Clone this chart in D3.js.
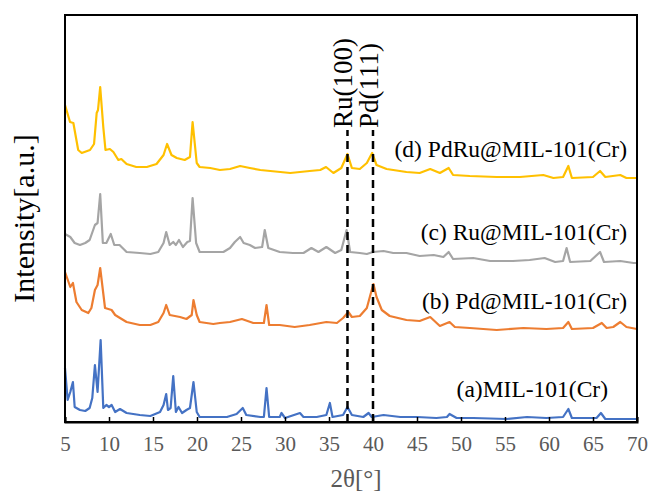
<!DOCTYPE html>
<html>
<head>
<meta charset="utf-8">
<script src="https://cdn.jsdelivr.net/npm/d3@7"></script>
<style>
  html, body { margin: 0; padding: 0; background: #fff; }
  svg { display: block; }
</style>
</head>
<body>
<svg id="chart" width="651" height="492"></svg>
<script>
// ---- data (2θ in degrees, stacked intensity in a.u.) ----
const xTicks = [5, 10, 15, 20, 25, 30, 35, 40, 45, 50, 55, 60, 65, 70];
const seriesNames = ["(a)MIL-101(Cr)", "(b) Pd@MIL-101(Cr)", "(c) Ru@MIL-101(Cr)", "(d) PdRu@MIL-101(Cr)"];
const seriesColors = ["#4472C4", "#ED7D31", "#A5A5A5", "#FFC000"];
const refLines = [37.1, 40.0];
const refLabels = ["Ru(100)", "Pd(111)"];

const dataA = [[5.0,54],[5.3,22],[5.6,30],[5.9,40],[6.1,15],[6.7,12],[7.3,11],[7.8,14],[8.1,24],[8.4,57],[8.7,30],[9.05,82],[9.35,14],[9.7,17],[10.0,15],[10.3,17],[10.7,10],[11.25,13],[12.0,9],[13.5,7],[14.7,6],[15.8,10],[16.2,17],[16.5,28],[16.7,12],[17.0,14],[17.3,46],[17.6,10],[17.9,15],[18.3,9],[18.8,12],[19.2,14],[19.6,40],[19.97,10],[20.3,5],[21.85,5],[23.4,5],[24.5,8],[25.2,14],[25.6,7],[27.2,5],[27.6,5],[27.9,34],[28.2,5],[29.4,5],[29.6,9],[30.0,4],[31.7,9],[32.1,5],[33.6,5],[34.7,7],[35.1,19],[35.4,5],[36.6,7],[37.1,15],[37.6,7],[38.9,5],[39.5,9],[39.85,5],[41.2,7],[43.1,5],[45.0,5],[47.2,4],[48.4,5],[48.7,8],[49.5,4],[51.4,4],[55.2,3],[57.5,5],[59.7,4],[61.6,5],[62.2,13],[62.6,4],[65.4,4],[65.9,9],[66.4,3],[68.4,3],[70.0,3]];

const dataB = [[5.0,150],[5.6,135],[5.9,139],[6.3,120],[6.9,112],[7.65,109],[8.0,114],[8.4,132],[8.7,137],[9.0,154],[9.55,114],[10.3,112],[10.7,107],[11.25,104],[12.0,100],[13.5,97],[14.7,97],[15.6,100],[16.2,109],[16.5,117],[16.9,107],[18.07,105],[18.8,103],[19.4,107],[19.6,122],[19.97,107],[20.3,100],[21.85,98],[22.6,99],[23.75,100],[25.1,103],[26.4,99],[27.6,99],[27.9,117],[28.2,97],[29.4,97],[31.1,95],[32.8,97],[34.7,100],[35.9,99],[36.6,104],[37.2,110],[37.6,105],[38.5,106],[39.3,114],[39.7,127],[40.05,138],[40.4,125],[41.0,112],[41.9,106],[43.8,102],[45.3,101],[46.5,105],[47.6,96],[48.7,100],[49.3,95],[51.0,94],[54.06,92],[57.1,94],[59.7,93],[61.6,94],[62.2,100],[62.6,93],[65.0,94],[66.0,99],[66.55,94],[67.3,95],[68.1,100],[68.8,95],[70.0,93]];

const dataC = [[5.0,188],[5.6,185],[6.1,179],[6.7,177],[7.3,179],[7.8,182],[8.4,197],[8.7,199],[9.0,228],[9.3,179],[9.7,179],[10.2,188],[10.6,177],[11.2,177],[12.0,170],[13.5,169],[14.7,168],[15.6,170],[16.2,179],[16.5,190],[16.9,177],[17.3,180],[17.6,177],[17.95,182],[18.4,175],[18.9,180],[19.2,181],[19.5,224],[19.9,179],[20.3,170],[21.5,170],[23.0,170],[23.75,174],[24.3,180],[24.9,185],[25.3,179],[26.0,177],[26.6,174],[27.4,175],[27.7,192],[28.1,174],[29.4,170],[30.9,169],[32.1,169],[33.0,174],[33.8,170],[34.7,175],[35.7,169],[36.4,172],[37.0,192],[37.4,170],[38.5,169],[39.3,168],[40.0,170],[41.2,171],[42.3,169],[43.8,169],[45.3,166],[46.9,167],[48.0,165],[48.6,170],[49.1,163],[51.4,164],[53.3,161],[55.9,161],[57.8,162],[59.5,164],[60.7,160],[61.6,161],[62.0,174],[62.4,160],[64.7,161],[65.8,170],[66.25,160],[68.1,161],[69.6,159],[70.0,159]];

const dataD = [[5.0,317],[5.57,300],[5.95,299],[6.5,272],[6.9,269],[7.84,272],[8.3,278],[8.6,309],[8.75,312],[9.0,335],[9.35,295],[9.6,272],[10.1,273],[10.5,270],[11.06,262],[11.4,263],[12.0,258],[13.1,255],[14.3,255],[15.4,258],[16.2,267],[16.6,278],[17.1,267],[17.7,264],[18.6,262],[19.2,265],[19.5,300],[19.97,259],[20.3,255],[21.5,254],[22.6,252],[23.75,253],[24.9,256],[26.0,254],[27.2,252],[30.6,249],[32.8,251],[34.0,252],[34.66,255],[35.5,249],[36.4,254],[37.1,268],[37.6,254],[38.5,253],[39.3,259],[39.9,269],[40.4,257],[41.55,253],[43.8,250],[45.3,249],[46.5,253],[47.6,249],[48.6,254],[49.1,247],[51.0,246],[54.06,245],[56.7,245],[59.35,247],[60.5,244],[61.6,245],[62.2,256],[62.6,244],[65.0,245],[65.8,251],[66.4,245],[68.1,247],[68.8,244],[70.0,244]];

const allSeries = [dataA, dataB, dataC, dataD];

// ---- layout ----
const W = 651, H = 492;
const margin = { left: 65, right: 14, top: 15, bottom: 70 };
const svg = d3.select("#chart");
const x = d3.scaleLinear().domain([5, 70]).range([margin.left, W - margin.right]);
const y = d3.scaleLinear().domain([0, 407]).range([H - margin.bottom, margin.top]);
const serif = "'Liberation Serif', 'Times New Roman', serif";

// series lines
const line = d3.line().x(d => x(d[0])).y(d => y(d[1]));
allSeries.forEach((s, i) => {
  svg.append("path").datum(s)
    .attr("d", line)
    .attr("fill", "none")
    .attr("stroke", seriesColors[i])
    .attr("stroke-width", 2.2)
    .attr("stroke-linejoin", "round");
});

// reference dashed lines
refLines.forEach((v, i) => {
  svg.append("line")
    .attr("x1", x(v)).attr("x2", x(v))
    .attr("y1", y(0)).attr("y2", y(292))
    .attr("stroke", "#000").attr("stroke-width", 2.5)
    .attr("stroke-dasharray", "8,5");
  svg.append("text")
    .attr("transform", `translate(${x(v) + 4.5},${y(294)}) rotate(-90)`)
    .attr("font-family", serif).attr("font-size", 27)
    .attr("fill", "#000")
    .text(refLabels[i]);
});

// frame
svg.append("rect")
  .attr("x", margin.left).attr("y", margin.top)
  .attr("width", W - margin.left - margin.right)
  .attr("height", H - margin.top - margin.bottom)
  .attr("fill", "none").attr("stroke", "#000").attr("stroke-width", 2);

// x axis
const xAxis = d3.axisBottom(x).tickValues(xTicks).tickSize(-5).tickPadding(14).tickFormat(d3.format("d"));
const gx = svg.append("g").attr("transform", `translate(0,${H - margin.bottom})`).call(xAxis);
gx.attr("font-family", serif);
gx.select(".domain").attr("stroke", "#000").attr("stroke-width", 2);
gx.selectAll(".tick line").attr("stroke", "#000").attr("stroke-width", 1.5);
gx.selectAll(".tick text").attr("font-family", serif).attr("font-size", 21).attr("fill", "#595959");

// axis titles
svg.append("text")
  .attr("x", (margin.left + W - margin.right) / 2 + 5).attr("y", 487)
  .attr("text-anchor", "middle")
  .attr("font-family", serif).attr("font-size", 25).attr("fill", "#595959")
  .text("2θ[°]");
svg.append("text")
  .attr("transform", `translate(34,${(margin.top + H - margin.bottom) / 2}) rotate(-90)`)
  .attr("text-anchor", "middle")
  .attr("font-family", serif).attr("font-size", 30).attr("fill", "#000")
  .text("Intensity[a.u.]");

// series labels
const labelPos = [[608, 25], [627, 113], [627, 182], [627, 265]];
seriesNames.forEach((n, i) => {
  svg.append("text")
    .attr("x", labelPos[i][0]).attr("y", y(labelPos[i][1]))
    .attr("text-anchor", "end")
    .attr("font-family", serif).attr("font-size", 23.5).attr("fill", "#000")
    .text(n);
});
</script>
</body>
</html>
